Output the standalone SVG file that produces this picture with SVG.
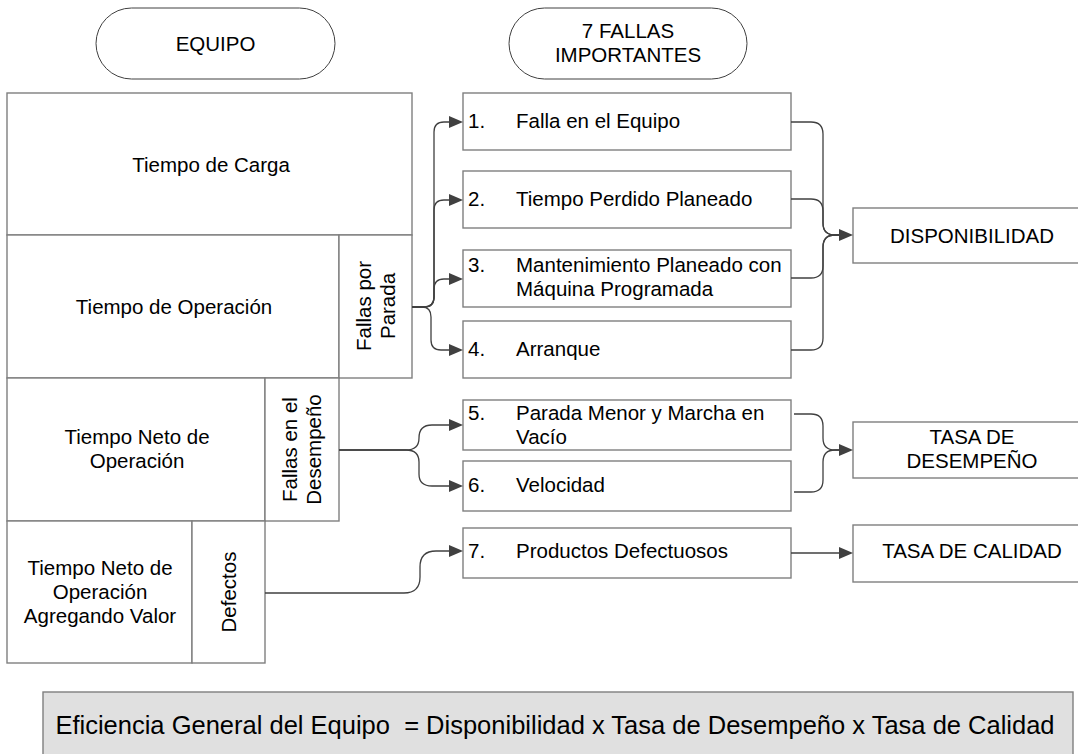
<svg xmlns="http://www.w3.org/2000/svg" width="1078" height="754" viewBox="0 0 1078 754">
  <style>
    .box { fill: #ffffff; stroke: #7f7f7f; stroke-width: 1.4; }
    .pill { fill: #ffffff; stroke: #404040; stroke-width: 1; }
    .t { font-family: "Liberation Sans", Arial, sans-serif; font-size: 20.5px; fill: #000000; }
    .c { text-anchor: middle; }
    .link { fill: none; stroke: #404040; stroke-width: 1.3; }
    .total { fill: #e0e0e0; stroke: #7f7f7f; stroke-width: 1.4; }
  </style>
  <defs>
    <marker id="arrow" viewBox="0 0 14 12" refX="0" refY="6" markerWidth="14" markerHeight="12" markerUnits="userSpaceOnUse" orient="auto">
      <path d="M0,0 L14,6 L0,12 Z" fill="#404040"/>
    </marker>
  </defs>
  <rect width="1078" height="754" fill="#ffffff"/>

  <!-- column headers -->
  <g id="hdr-equipo">
    <rect class="pill" x="96" y="8" width="239" height="71" rx="35.5"/>
    <text class="t c" x="215.5" y="51">EQUIPO</text>
  </g>
  <g id="hdr-fallas">
    <rect class="pill" x="509" y="8" width="238" height="71" rx="35.5"/>
    <text class="t c" x="628" y="37.5">7 FALLAS</text>
    <text class="t c" x="628" y="61.5">IMPORTANTES</text>
  </g>

  <!-- equipment time breakdown -->
  <g id="tiempo-carga">
    <rect class="box" x="7" y="93" width="405" height="142"/>
    <text class="t c" x="211" y="172">Tiempo de Carga</text>
  </g>
  <g id="tiempo-operacion">
    <rect class="box" x="7" y="235" width="332" height="143"/>
    <text class="t c" x="174" y="314">Tiempo de Operación</text>
  </g>
  <g id="fallas-parada">
    <rect class="box" x="339" y="235" width="73" height="143"/>
    <g transform="translate(375.5,306) rotate(-90)">
      <text class="t c" x="0" y="-4.5">Fallas por</text>
      <text class="t c" x="0" y="19.5">Parada</text>
    </g>
  </g>
  <g id="tiempo-neto">
    <rect class="box" x="7" y="378" width="258" height="143"/>
    <text class="t c" x="137" y="444">Tiempo Neto de</text>
    <text class="t c" x="137" y="468">Operación</text>
  </g>
  <g id="fallas-desempeno">
    <rect class="box" x="265" y="378" width="74" height="143"/>
    <g transform="translate(302,449.5) rotate(-90)">
      <text class="t c" x="0" y="-5">Fallas en el</text>
      <text class="t c" x="0" y="19">Desempeño</text>
    </g>
  </g>
  <g id="tiempo-valor">
    <rect class="box" x="7" y="521" width="185" height="142"/>
    <text class="t c" x="100" y="575">Tiempo Neto de</text>
    <text class="t c" x="100" y="599">Operación</text>
    <text class="t c" x="100" y="623">Agregando Valor</text>
  </g>
  <g id="defectos">
    <rect class="box" x="192" y="521" width="73" height="142"/>
    <g transform="translate(228.5,592) rotate(-90)">
      <text class="t c" x="0" y="7.5">Defectos</text>
    </g>
  </g>

  <!-- the seven major losses -->
  <g id="falla-1">
    <rect class="box" x="463" y="93" width="328" height="57"/>
    <text class="t" x="468" y="128">1.</text>
    <text class="t" x="516" y="128">Falla en el Equipo</text>
  </g>
  <g id="falla-2">
    <rect class="box" x="463" y="171" width="328" height="57"/>
    <text class="t" x="468" y="206">2.</text>
    <text class="t" x="516" y="206">Tiempo Perdido Planeado</text>
  </g>
  <g id="falla-3">
    <rect class="box" x="463" y="250" width="328" height="57"/>
    <text class="t" x="468" y="272">3.</text>
    <text class="t" x="516" y="272">Mantenimiento Planeado con</text>
    <text class="t" x="516" y="296">Máquina Programada</text>
  </g>
  <g id="falla-4">
    <rect class="box" x="463" y="321" width="328" height="57"/>
    <text class="t" x="468" y="356">4.</text>
    <text class="t" x="516" y="356">Arranque</text>
  </g>
  <g id="falla-5">
    <rect class="box" x="463" y="400" width="328" height="50"/>
    <text class="t" x="468" y="420">5.</text>
    <text class="t" x="516" y="420">Parada Menor y Marcha en</text>
    <text class="t" x="516" y="444">Vacío</text>
  </g>
  <g id="falla-6">
    <rect class="box" x="463" y="461" width="328" height="50"/>
    <text class="t" x="468" y="492">6.</text>
    <text class="t" x="516" y="492">Velocidad</text>
  </g>
  <g id="falla-7">
    <rect class="box" x="463" y="528" width="328" height="50"/>
    <text class="t" x="468" y="558">7.</text>
    <text class="t" x="516" y="558">Productos Defectuosos</text>
  </g>

  <!-- resulting indicators -->
  <g id="disponibilidad">
    <rect class="box" x="853" y="208" width="239" height="55"/>
    <text class="t c" x="972" y="243">DISPONIBILIDAD</text>
  </g>
  <g id="tasa-desempeno">
    <rect class="box" x="853" y="422" width="239" height="56"/>
    <text class="t c" x="972" y="444">TASA DE</text>
    <text class="t c" x="972" y="468">DESEMPEÑO</text>
  </g>
  <g id="tasa-calidad">
    <rect class="box" x="853" y="525" width="239" height="57"/>
    <text class="t c" x="972" y="558">TASA DE CALIDAD</text>
  </g>

  <!-- connectors -->
  <g id="connectors">
    <path class="link" marker-end="url(#arrow)" d="M412,307 H424 Q434,307 434,297 V132 Q434,122 444,122 H449"/>
    <path class="link" marker-end="url(#arrow)" d="M412,307 H424 Q434,307 434,297 V210 Q434,200 444,200 H449"/>
    <path class="link" marker-end="url(#arrow)" d="M412,307 H424 Q434,307 434,297 V289 Q434,279 444,279 H449"/>
    <path class="link" marker-end="url(#arrow)" d="M412,307 H422 Q431,307 431,317 V340 Q431,350 441,350 H449"/>

    <path class="link" marker-end="url(#arrow)" d="M791,122 H811 Q823,122 823,134 V223 Q823,235 835,235 H839"/>
    <path class="link" d="M791,199 H811 Q823,199 823,211 V223 Q823,235 835,235 H839"/>
    <path class="link" d="M791,278 H811 Q823,278 823,266 V247 Q823,235 835,235 H839"/>
    <path class="link" d="M791,350 H811 Q823,350 823,338 V247 Q823,235 835,235 H839"/>

    <path class="link" marker-end="url(#arrow)" d="M339,450 H406 Q419,450 419,438 Q419,425 432,425 H449"/>
    <path class="link" marker-end="url(#arrow)" d="M339,450 H406 Q419,450 419,462 V474 Q419,486 432,486 H449"/>

    <path class="link" marker-end="url(#arrow)" d="M265,593 H404 Q420,593 420,577 V567 Q420,551 436,551 H449"/>

    <path class="link" marker-end="url(#arrow)" d="M794,414 H811 Q823,414 823,426 V438 Q823,450 835,450 H839"/>
    <path class="link" d="M794,492 H811 Q823,492 823,480 V462 Q823,450 835,450 H839"/>

    <path class="link" marker-end="url(#arrow)" d="M791,553 H839"/>
  </g>

  <!-- overall equipment effectiveness -->
  <g id="formula">
    <rect class="total" x="43" y="692" width="1030" height="80"/>
    <text class="t c" x="555" y="734" style="font-size:25.5px" xml:space="preserve">Eficiencia General del Equipo  = Disponibilidad x Tasa de Desempeño x Tasa de Calidad</text>
  </g>
</svg>
